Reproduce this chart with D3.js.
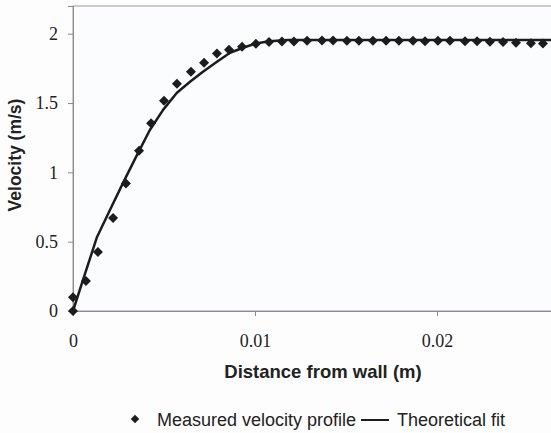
<!DOCTYPE html>
<html lang="en">
  <head>
    <meta charset="UTF-8" />
    <title>Velocity profile</title>
    <script src="https://d3js.org/d3.v7.min.js"></script>
    <style>
      body { margin: 0; background: #fdfdfe; }
      svg { display: block; }
    </style>
  </head>
  <body>
    <script>
      // Measured velocity profile (distance from wall in m, velocity in m/s)
      const measuredX = [0, 0, 0.00071, 0.00137, 0.0022, 0.00291, 0.00363, 0.00429, 0.005, 0.00571,
        0.00648, 0.0072, 0.00791, 0.00857, 0.00929, 0.01005, 0.01077, 0.01148, 0.01214, 0.01286,
        0.01368, 0.01429, 0.01505, 0.01571, 0.01648, 0.0172, 0.01791, 0.01868, 0.01934, 0.02005,
        0.02071, 0.02154, 0.0222, 0.02291, 0.02363, 0.02434, 0.02516, 0.02582];
      const measuredV = [0, 0.1, 0.217, 0.426, 0.67, 0.92, 1.155, 1.355, 1.516, 1.64,
        1.726, 1.79, 1.858, 1.885, 1.906, 1.928, 1.94, 1.944, 1.944, 1.95,
        1.952, 1.952, 1.95, 1.95, 1.95, 1.95, 1.95, 1.95, 1.945, 1.95,
        1.95, 1.945, 1.945, 1.943, 1.94, 1.935, 1.932, 1.93];

      // Theoretical fit
      const fitX = [0, 0.00055, 0.00132, 0.00203, 0.00275, 0.00352, 0.00423, 0.00495, 0.00571,
        0.00643, 0.00714, 0.00791, 0.00863, 0.00934, 0.01005, 0.01077, 0.0118, 0.03];
      const fitV = [0, 0.224, 0.534, 0.729, 0.924, 1.126, 1.307, 1.451, 1.574,
        1.653, 1.726, 1.798, 1.863, 1.899, 1.93, 1.945, 1.955, 1.955];

      const xTicks = [0, 0.01, 0.02];
      const yTicks = [0, 0.5, 1, 1.5, 2];

      const width = 551;
      const height = 433;
      const margin = { top: 6, left: 73 };

      const svg = d3.select("body").append("svg")
        .attr("width", width)
        .attr("height", height);

      const x = d3.scaleLinear().domain([0, 0.03]).range([margin.left, margin.left + 546]);
      const y = d3.scaleLinear().domain([0, 2.2]).range([311, margin.top]);

      // plot frame
      svg.append("rect")
        .attr("x", x(0)).attr("y", y(2.2))
        .attr("width", x(0.03) - x(0)).attr("height", y(0) - y(2.2))
        .attr("fill", "#fbfcfe")
        .attr("stroke", "#9a9a9a")
        .attr("stroke-width", 1);

      const serif = "'Liberation Serif', 'Times New Roman', serif";
      const sans = "'Liberation Sans', Arial, sans-serif";

      // axes
      const xAxis = svg.append("g")
        .attr("transform", `translate(0,${y(0)})`)
        .call(d3.axisBottom(x).tickValues(xTicks).tickFormat(d3.format("")).tickSize(5).tickPadding(18));
      const yAxis = svg.append("g")
        .attr("transform", `translate(${x(0)},0)`)
        .call(d3.axisLeft(y).tickValues(yTicks).tickFormat(d3.format("")).tickSize(5).tickPadding(10));

      [xAxis, yAxis].forEach((g) => {
        g.select(".domain").attr("stroke", "#8a8a8a");
        g.selectAll(".tick line").attr("stroke", "#8a8a8a");
        g.selectAll(".tick text")
          .attr("fill", "#222")
          .style("font-family", serif)
          .style("font-size", "18px");
      });

      // theoretical fit line
      const line = d3.line()
        .x((d) => x(d[0]))
        .y((d) => y(d[1]));

      svg.append("path")
        .datum(d3.zip(fitX, fitV))
        .attr("d", line)
        .attr("fill", "none")
        .attr("stroke", "#1c1c1c")
        .attr("stroke-width", 2.5)
        .attr("stroke-linejoin", "round");

      // measured markers: square turned 45 degrees
      const diamond = d3.symbol().type(d3.symbolSquare).size(50);
      svg.append("g")
        .selectAll("path")
        .data(d3.zip(measuredX, measuredV))
        .join("path")
        .attr("d", diamond)
        .attr("transform", (d) => `translate(${x(d[0])},${y(d[1])}) rotate(45)`)
        .attr("fill", "#1c1c1c");

      // axis titles
      svg.append("text")
        .attr("x", 323).attr("y", 378)
        .attr("text-anchor", "middle")
        .style("font-family", sans)
        .style("font-size", "18.5px")
        .style("font-weight", "bold")
        .attr("fill", "#222")
        .text("Distance from wall (m)");

      svg.append("text")
        .attr("transform", `translate(21,155) rotate(-90)`)
        .attr("text-anchor", "middle")
        .style("font-family", sans)
        .style("font-size", "17.5px")
        .style("font-weight", "bold")
        .attr("fill", "#222")
        .text("Velocity (m/s)");

      // legend
      const legend = svg.append("g").attr("transform", "translate(0,420)");
      legend.append("path")
        .attr("d", d3.symbol().type(d3.symbolSquare).size(36))
        .attr("transform", "translate(135,-1) rotate(45)")
        .attr("fill", "#1c1c1c");
      legend.append("text")
        .attr("x", 157).attr("y", 6)
        .style("font-family", sans)
        .style("font-size", "18px")
        .attr("fill", "#222")
        .text("Measured velocity profile");
      legend.append("line")
        .attr("x1", 361).attr("x2", 389)
        .attr("y1", 0).attr("y2", 0)
        .attr("stroke", "#1c1c1c")
        .attr("stroke-width", 2);
      legend.append("text")
        .attr("x", 397).attr("y", 6)
        .style("font-family", sans)
        .style("font-size", "18px")
        .attr("fill", "#222")
        .text("Theoretical fit");
    </script>
  </body>
</html>
